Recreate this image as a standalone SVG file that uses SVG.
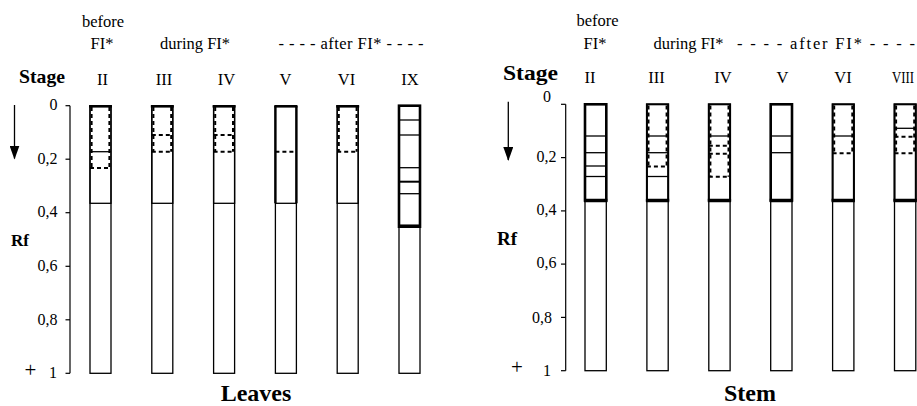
<svg xmlns="http://www.w3.org/2000/svg" width="917" height="406" viewBox="0 0 917 406" font-family="'Liberation Serif', 'DejaVu Serif', serif">
<style>
text{font-family:'Liberation Serif','DejaVu Serif',serif;fill:#000}
.lb{font-size:16.5px;text-anchor:middle}
.b{font-weight:bold}
.tk{font-size:16px;text-anchor:end}
.pl{font-size:21px}
.ax{stroke:#000;stroke-width:1.2;fill:none}
.bar{fill:#fff;stroke:#000;stroke-width:1.3}
.zone{fill:none;stroke:#000;stroke-width:2.6}
.zt{fill:none;stroke:#000;stroke-width:1.3}
.ds{stroke:#000;stroke-width:2;stroke-dasharray:4 3}
.sl{stroke:#000;stroke-width:1.3}
.dl{stroke:#000;stroke-width:2;stroke-dasharray:4 3}
.tb{stroke:#000;stroke-width:3.5}
.tt{stroke:#000;stroke-width:2.4}
.ts{stroke:#000;stroke-width:2.4}
</style>
<defs>
<marker id="ah" markerWidth="14" markerHeight="10" refX="13" refY="5" orient="auto" markerUnits="userSpaceOnUse" viewBox="0 0 14 10">
<path d="M0,0 L14,5 L0,10 Z" fill="#000"/>
</marker>
</defs>

<!-- ===== LEAVES PANEL ===== -->
<g id="leaves-labels">
<text class="lb" x="103" y="27">before</text>
<text class="lb" x="102" y="49">FI*</text>
<text class="lb" x="195" y="49">during FI*</text>
<text class="lb" x="351" y="49" textLength="145" lengthAdjust="spacing">- - - - after FI* - - - -</text>
<text class="b" x="19" y="83" font-size="19" textLength="46" lengthAdjust="spacingAndGlyphs">Stage</text>
<text class="lb" x="102.5" y="85">II</text>
<text class="lb" x="164" y="85">III</text>
<text class="lb" x="226.5" y="85">IV</text>
<text class="lb" x="285.5" y="85">V</text>
<text class="lb" x="346.5" y="85">VI</text>
<text class="lb" x="410" y="85">IX</text>
<text class="b" x="11" y="246" font-size="17">Rf</text>
<text class="pl" x="24.5" y="377">+</text>
<text class="b" x="256" y="401" font-size="24" text-anchor="middle">Leaves</text>
</g>
<g id="leaves-axis">
<line class="ax" x1="70" y1="105.7" x2="70" y2="373.3"/>
<line class="ax" x1="65.5" y1="105.7" x2="70" y2="105.7"/>
<line class="ax" x1="65.5" y1="159.2" x2="70" y2="159.2"/>
<line class="ax" x1="65.5" y1="212.7" x2="70" y2="212.7"/>
<line class="ax" x1="65.5" y1="266.3" x2="70" y2="266.3"/>
<line class="ax" x1="65.5" y1="319.8" x2="70" y2="319.8"/>
<line class="ax" x1="65.5" y1="373.3" x2="70" y2="373.3"/>
<text class="tk" x="57.5" y="110">0</text>
<text class="tk" x="57.5" y="163.5">0,2</text>
<text class="tk" x="57.5" y="217">0,4</text>
<text class="tk" x="57.5" y="270.5">0,6</text>
<text class="tk" x="57.5" y="324.5">0,8</text>
<text class="tk" x="57" y="377.5">1</text>
</g>

<g id="leaves-II">
<rect class="bar" x="90" y="105.7" width="21" height="267.6"/>
<rect class="zt" x="90" y="105.7" width="21" height="97.6"/>
<line class="tt" x1="89" y1="106.4" x2="112" y2="106.4"/>
<line class="ds" x1="91.6" y1="107" x2="91.6" y2="168"/>
<line class="ds" x1="109.4" y1="107" x2="109.4" y2="168"/>
<line class="sl" x1="90" y1="151.7" x2="111" y2="151.7"/>
<line class="dl" x1="90" y1="168" x2="111" y2="168"/>
</g>
<g id="leaves-III">
<rect class="bar" x="151.8" y="105.7" width="21" height="267.6"/>
<rect class="zt" x="151.8" y="105.7" width="21" height="97.6"/>
<line class="tt" x1="150.8" y1="106.4" x2="173.8" y2="106.4"/>
<line class="ds" x1="153.4" y1="107" x2="153.4" y2="151.7"/>
<line class="ds" x1="171.2" y1="107" x2="171.2" y2="151.7"/>
<line class="dl" x1="151.8" y1="135" x2="172.8" y2="135"/>
<line class="dl" x1="151.8" y1="151.7" x2="172.8" y2="151.7"/>
</g>
<g id="leaves-IV">
<rect class="bar" x="213.6" y="105.7" width="21" height="267.6"/>
<rect class="zt" x="213.6" y="105.7" width="21" height="97.6"/>
<line class="tt" x1="212.6" y1="106.4" x2="235.6" y2="106.4"/>
<line class="ds" x1="215.2" y1="107" x2="215.2" y2="151.7"/>
<line class="ds" x1="233" y1="107" x2="233" y2="151.7"/>
<line class="dl" x1="213.6" y1="135" x2="234.6" y2="135"/>
<line class="dl" x1="213.6" y1="151.7" x2="234.6" y2="151.7"/>
</g>
<g id="leaves-V">
<rect class="bar" x="275.4" y="105.7" width="21" height="267.6"/>
<line class="tt" x1="274.4" y1="106.4" x2="297.4" y2="106.4"/>
<line class="ts" x1="275.4" y1="105.7" x2="275.4" y2="203.3"/>
<line class="ts" x1="296.4" y1="105.7" x2="296.4" y2="203.3"/>
<line class="sl" x1="275.4" y1="203.3" x2="296.4" y2="203.3"/>
<line class="dl" x1="275.4" y1="151.7" x2="296.4" y2="151.7"/>
</g>
<g id="leaves-VI">
<rect class="bar" x="337.2" y="105.7" width="21" height="267.6"/>
<rect class="zt" x="337.2" y="105.7" width="21" height="97.6"/>
<line class="tt" x1="336.2" y1="106.4" x2="359.2" y2="106.4"/>
<line class="ds" x1="338.8" y1="107" x2="338.8" y2="151.7"/>
<line class="ds" x1="356.6" y1="107" x2="356.6" y2="151.7"/>
<line class="dl" x1="337.2" y1="151.7" x2="358.2" y2="151.7"/>
</g>
<g id="leaves-IX">
<rect class="bar" x="399" y="105.7" width="21" height="267.6"/>
<rect class="zone" x="399" y="105.7" width="21" height="121"/>
<line class="sl" x1="399" y1="120" x2="420" y2="120"/>
<line class="sl" x1="399" y1="135" x2="420" y2="135"/>
<line class="sl" x1="399" y1="167.7" x2="420" y2="167.7"/>
<line class="sl" x1="399" y1="181.7" x2="420" y2="181.7" style="stroke-width:2"/>
<line class="sl" x1="399" y1="193.7" x2="420" y2="193.7"/>
<line class="tb" x1="398" y1="226.2" x2="421" y2="226.2"/>
</g>

<!-- ===== STEM PANEL ===== -->
<g id="stem-labels">
<text class="lb" x="597.5" y="26">before</text>
<text class="lb" x="595" y="49">FI*</text>
<text class="lb" x="688.5" y="49">during FI*</text>
<text x="737" y="49" font-size="16.5" textLength="178" lengthAdjust="spacing">- - - - after FI* - - - -</text>
<text class="b" x="503" y="80" font-size="20" textLength="55" lengthAdjust="spacingAndGlyphs">Stage</text>
<text class="lb" x="590" y="83">II</text>
<text class="lb" x="656.5" y="83">III</text>
<text class="lb" x="723" y="83">IV</text>
<text class="lb" x="782.5" y="83">V</text>
<text class="lb" x="843" y="83">VI</text>
<text x="892" y="83" font-size="16.5" textLength="22" lengthAdjust="spacingAndGlyphs">VIII</text>
<text class="b" x="497" y="245" font-size="19">Rf</text>
<text class="pl" x="511" y="374">+</text>
<text class="b" x="750" y="401" font-size="24" text-anchor="middle">Stem</text>
</g>
<g id="stem-axis">
<line class="ax" x1="565.7" y1="104.3" x2="565.7" y2="370.7"/>
<line class="ax" x1="561" y1="104.3" x2="565.7" y2="104.3"/>
<line class="ax" x1="561" y1="157.6" x2="565.7" y2="157.6"/>
<line class="ax" x1="561" y1="210.9" x2="565.7" y2="210.9"/>
<line class="ax" x1="561" y1="264.1" x2="565.7" y2="264.1"/>
<line class="ax" x1="561" y1="317.4" x2="565.7" y2="317.4"/>
<line class="ax" x1="561" y1="370.7" x2="565.7" y2="370.7"/>
<text class="tk" x="551" y="101.5">0</text>
<text class="tk" x="556.5" y="161.5">0,2</text>
<text class="tk" x="556.5" y="215">0,4</text>
<text class="tk" x="556.5" y="268">0,6</text>
<text class="tk" x="552" y="323">0,8</text>
<text class="tk" x="551" y="375.5">1</text>
</g>

<g id="stem-II">
<rect class="bar" x="585" y="104.3" width="21.3" height="266.4"/>
<rect class="zone" x="585" y="104.3" width="21.3" height="96.2"/>
<line class="sl" x1="585" y1="136" x2="606.3" y2="136"/>
<line class="sl" x1="585" y1="152.7" x2="606.3" y2="152.7"/>
<line class="sl" x1="585" y1="166" x2="606.3" y2="166"/>
<line class="sl" x1="585" y1="176.5" x2="606.3" y2="176.5"/>
<line class="tb" x1="584" y1="200.5" x2="607.3" y2="200.5"/>
</g>
<g id="stem-III">
<rect class="bar" x="646.9" y="104.3" width="21.3" height="266.4"/>
<rect class="zone" x="646.9" y="104.3" width="21.3" height="96.2" style="stroke-width:2"/>
<line class="ds" x1="648.5" y1="105.5" x2="648.5" y2="166.5"/>
<line class="ds" x1="666.6" y1="105.5" x2="666.6" y2="166.5"/>
<line class="sl" x1="646.9" y1="136" x2="668.2" y2="136"/>
<line class="sl" x1="646.9" y1="152.7" x2="668.2" y2="152.7"/>
<line class="dl" x1="646.9" y1="166.5" x2="668.2" y2="166.5"/>
<line class="sl" x1="646.9" y1="176.5" x2="668.2" y2="176.5"/>
<line class="tb" x1="645.9" y1="200.5" x2="669.2" y2="200.5"/>
</g>
<g id="stem-IV">
<rect class="bar" x="708.8" y="104.3" width="21.3" height="266.4"/>
<rect class="zone" x="708.8" y="104.3" width="21.3" height="96.2" style="stroke-width:2"/>
<line class="ds" x1="710.4" y1="105.5" x2="710.4" y2="176.7"/>
<line class="ds" x1="728.5" y1="105.5" x2="728.5" y2="176.7"/>
<line class="sl" x1="708.8" y1="136" x2="730.1" y2="136"/>
<line class="dl" x1="708.8" y1="145.7" x2="730.1" y2="145.7"/>
<line class="dl" x1="708.8" y1="153.7" x2="730.1" y2="153.7"/>
<line class="dl" x1="708.8" y1="176.7" x2="730.1" y2="176.7"/>
<line class="tb" x1="707.8" y1="200.5" x2="731.1" y2="200.5"/>
</g>
<g id="stem-V">
<rect class="bar" x="770.7" y="104.3" width="21.3" height="266.4"/>
<rect class="zone" x="770.7" y="104.3" width="21.3" height="96.2"/>
<line class="sl" x1="770.7" y1="136" x2="792" y2="136"/>
<line class="sl" x1="770.7" y1="152.7" x2="792" y2="152.7"/>
<line class="tb" x1="769.7" y1="200.5" x2="793" y2="200.5"/>
</g>
<g id="stem-VI">
<rect class="bar" x="832.6" y="104.3" width="21.3" height="266.4"/>
<rect class="zone" x="832.6" y="104.3" width="21.3" height="96.2" style="stroke-width:2"/>
<line class="ds" x1="834.2" y1="105.5" x2="834.2" y2="153.3"/>
<line class="ds" x1="852.3" y1="105.5" x2="852.3" y2="153.3"/>
<line class="sl" x1="832.6" y1="136" x2="853.9" y2="136"/>
<line class="dl" x1="832.6" y1="153.3" x2="853.9" y2="153.3"/>
<line class="tb" x1="831.6" y1="200.5" x2="854.9" y2="200.5"/>
</g>
<g id="stem-VIII">
<rect class="bar" x="894.5" y="104.3" width="21.3" height="266.4"/>
<rect class="zone" x="894.5" y="104.3" width="21.3" height="96.2" style="stroke-width:2"/>
<line class="ds" x1="896.1" y1="105.5" x2="896.1" y2="153.3"/>
<line class="ds" x1="914.2" y1="105.5" x2="914.2" y2="153.3"/>
<line class="sl" x1="894.5" y1="128.3" x2="915.8" y2="128.3"/>
<line class="dl" x1="894.5" y1="136.7" x2="915.8" y2="136.7"/>
<line class="dl" x1="894.5" y1="153.3" x2="915.8" y2="153.3"/>
<line class="tb" x1="893.5" y1="200.5" x2="916.8" y2="200.5"/>
</g>

<g id="connectors">
<line x1="14.5" y1="105" x2="14.5" y2="158.5" stroke="#000" stroke-width="1.3" marker-end="url(#ah)"/>
<line x1="508.3" y1="101.7" x2="508.3" y2="160" stroke="#000" stroke-width="1.3" marker-end="url(#ah)"/>
</g>
</svg>
